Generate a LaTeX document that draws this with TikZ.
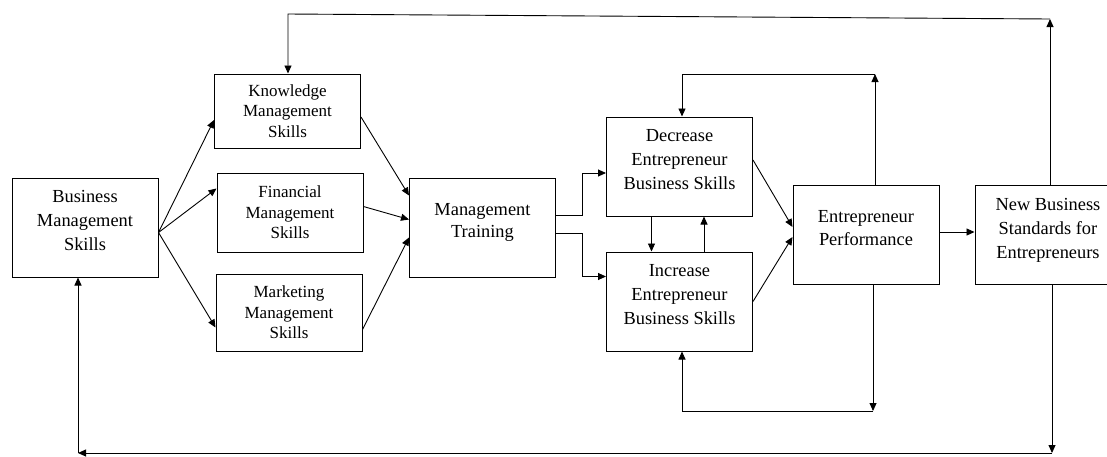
\documentclass[tikz,border=0pt]{standalone}
\usepackage{fontspec}
\setmainfont{Liberation Serif}
\usepackage{tikz}
\usetikzlibrary{arrows.meta}

\begin{document}
\begin{tikzpicture}[x=1pt,y=-1pt,
	box/.style={draw,line width=1pt,align=center,minimum width=146pt,inner sep=0pt},
	bigbox/.style={box,minimum height=99pt,font=\fontsize{18.4}{24}\selectfont,text depth=14pt},
	smallbox/.style={box,font=\fontsize{17}{20.5}\selectfont},
	flow/.style={line width=0.9pt,-{Triangle[length=8pt,width=7pt]}},
	plain/.style={line width=0.9pt}]
	\useasboundingbox (0,0) rectangle (1107,456);
	\clip (0,0) rectangle (1107,456);
	% boxes
	\node[bigbox] (bms) at (85,227.5) {Business\\Management\\Skills};
	\node[smallbox,minimum height=74pt] (kms) at (287.5,111) {Knowledge\\Management\\Skills};
	\node[smallbox,minimum height=79pt] (fms) at (290,212.5) {Financial\\Management\\Skills};
	\node[smallbox,minimum height=77pt] (mms) at (289,312.5) {Marketing\\Management\\Skills};
	\node[bigbox,font=\fontsize{18.4}{22}\selectfont] (mt) at (482.5,227.5) {Management\\Training};
	\node[bigbox] (dec) at (679.5,166.5) {Decrease\\Entrepreneur\\Business Skills};
	\node[bigbox] (inc) at (679.5,301.5) {Increase\\Entrepreneur\\Business Skills};
	\node[bigbox,font=\fontsize{18.4}{23}\selectfont] (ep) at (866,234.5) {Entrepreneur\\Performance};
	\node[bigbox,text depth=12pt] (nbs) at (1048,234.5) {New Business\\Standards for\\Entrepreneurs};
	% loop corners
	\coordinate (uptop) at (875,74);
	\coordinate (upbot) at (873,411);
	\coordinate (outtop) at (1050,19);
	\coordinate (intop) at (288,14);
	\coordinate (outbot) at (1052,453);
	\coordinate (inbot) at (78,453);
	% business skills to the three skills
	\draw[flow] ([yshift=-5pt]bms.east) -- ([yshift=-9pt]kms.west);
	\draw[flow] ([yshift=-5pt]bms.east) -- ([yshift=24pt]fms.west);
	\draw[flow] ([yshift=-5pt]bms.east) -- ([yshift=-15pt]mms.west);
	% three skills to training
	\draw[flow] ([yshift=-6pt]kms.east) -- ([yshift=32pt]mt.west);
	\draw[flow] ([yshift=6pt]fms.east) -- ([yshift=8pt]mt.west);
	\draw[flow] ([yshift=-17pt]mms.east) -- ([yshift=-10pt]mt.west);
	% training to decrease / increase
	\draw[flow] ([yshift=12pt]mt.east) -- ++(26,0) |- ([yshift=-6.5pt]dec.west);
	\draw[flow] ([yshift=-5.5pt]mt.east) -- ++(26,0) |- ([yshift=25pt]inc.west);
	\draw[flow] ([xshift=-28pt]dec.south) -- ([xshift=-28pt]inc.north);
	\draw[flow] ([xshift=24.5pt]inc.north) -- ([xshift=24.5pt]dec.south);
	% to performance
	\draw[flow] ([yshift=6.5pt]dec.east) -- ([yshift=7.5pt]ep.west);
	\draw[flow] (inc.east) -- ([yshift=-2.5pt]ep.west);
	\draw[flow] ([yshift=2.5pt]ep.east) -- ([yshift=2.5pt]nbs.west);
	% feedback from performance
	\draw[flow] (uptop |- ep.north) -- (uptop);
	\draw[flow] (uptop) -| ([xshift=2.5pt]dec.north);
	\draw[flow] (upbot |- ep.south) -- (upbot);
	\draw[flow] (upbot) -| ([xshift=2.5pt]inc.south);
	% feedback from new standards
	\draw[flow] (outtop |- nbs.north) -- (outtop);
	\draw[flow] (outtop) -- (intop) -- (intop |- kms.north);
	\draw[flow] (outbot |- nbs.south) -- (outbot);
	\draw[flow] (outbot) -- (inbot);
	\draw[flow] (inbot) -- (inbot |- bms.south);
\end{tikzpicture}
\end{document}
